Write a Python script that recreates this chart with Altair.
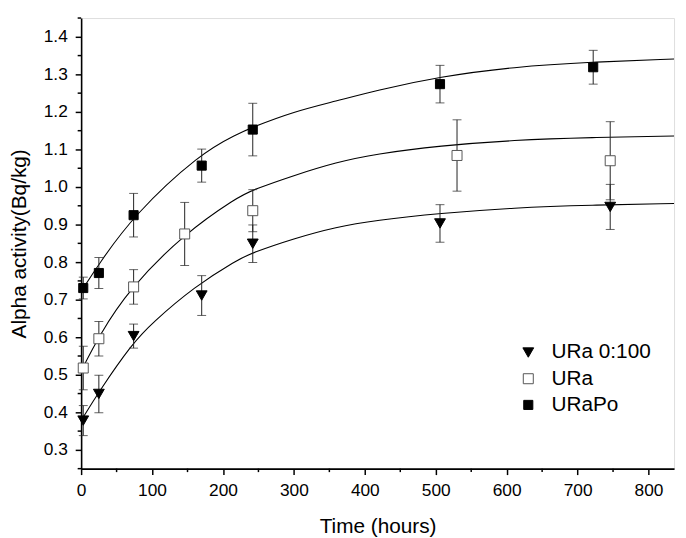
import altair as alt
import pandas as pd

series_names = ["URa 0:100", "URa", "URaPo"]

# measured points (hours, activity, +/- error)
tri_hours = [3, 25, 74, 170, 242, 506, 746]
tri_vals = [0.378, 0.449, 0.603, 0.711, 0.849, 0.903, 0.947]
tri_err = [0.04, 0.05, 0.032, 0.053, 0.05, 0.05, 0.06]

ura_hours = [3, 25, 74, 146, 242, 530, 746]
ura_vals = [0.518, 0.596, 0.734, 0.875, 0.937, 1.084, 1.07]
ura_err = [0.058, 0.046, 0.046, 0.084, 0.056, 0.095, 0.104]

urapo_hours = [3, 25, 74, 170, 242, 506, 722]
urapo_vals = [0.731, 0.771, 0.925, 1.057, 1.153, 1.274, 1.319]
urapo_err = [0.029, 0.041, 0.058, 0.044, 0.07, 0.05, 0.045]

# fitted curves
tri_fit_hours = [0, 25, 72, 100, 160, 220, 240, 300, 360, 415, 506, 610, 720, 836]
tri_fit_vals = [0.378, 0.455, 0.583, 0.638, 0.735, 0.806, 0.824, 0.863, 0.894, 0.911, 0.930, 0.945, 0.952, 0.956]

ura_fit_hours = [0, 25, 67, 146, 220, 240, 300, 360, 415, 506, 610, 720, 836]
ura_fit_vals = [0.51, 0.603, 0.727, 0.877, 0.972, 0.991, 1.031, 1.066, 1.088, 1.110, 1.125, 1.132, 1.136]

urapo_fit_hours = [0, 25, 74, 168, 220, 240, 300, 360, 415, 506, 610, 720, 836]
urapo_fit_vals = [0.722, 0.795, 0.925, 1.090, 1.141, 1.158, 1.201, 1.229, 1.257, 1.294, 1.320, 1.333, 1.341]

x_major = [0, 100, 200, 300, 400, 500, 600, 700, 800]
x_minor = [50, 150, 250, 350, 450, 550, 650, 750]
y_major = [0.3, 0.4, 0.5, 0.6, 0.7, 0.8, 0.9, 1.0, 1.1, 1.2, 1.3, 1.4]
y_minor = [0.25, 0.35, 0.45, 0.55, 0.65, 0.75, 0.85, 0.95, 1.05, 1.15, 1.25, 1.35, 1.45]

rows = []
for name, hs, vs, es in [(series_names[0], tri_hours, tri_vals, tri_err),
                         (series_names[1], ura_hours, ura_vals, ura_err),
                         (series_names[2], urapo_hours, urapo_vals, urapo_err)]:
    for h, v, e in zip(hs, vs, es):
        rows.append({"series": name, "hours": h, "value": v, "lo": v - e, "hi": v + e})
pts = pd.DataFrame(rows)

frows = []
for name, hs, vs in [(series_names[0], tri_fit_hours, tri_fit_vals),
                     (series_names[1], ura_fit_hours, ura_fit_vals),
                     (series_names[2], urapo_fit_hours, urapo_fit_vals)]:
    for h, v in zip(hs, vs):
        frows.append({"series": name, "hours": h, "value": v})
fits = pd.DataFrame(frows)

xminor_df = pd.DataFrame({"t": x_minor})
yminor_df = pd.DataFrame({"t": y_minor})

FONT = "Liberation Sans"
PLOT_H = 456

xscale = alt.Scale(domain=[0, 836], nice=False, zero=False)
yscale = alt.Scale(domain=[0.25, 1.45], nice=False, zero=False)

xaxis = alt.Axis(
    values=x_major,
    format="d",
    tickSize=6,
    title="Time (hours)",
    grid=False,
    domainColor="black", domainWidth=1.6,
    tickColor="black", tickWidth=1.5,
    labelFont=FONT, labelFontSize=17.5, labelColor="black", labelPadding=7,
    titleFont=FONT, titleFontSize=21, titleFontWeight="normal", titleColor="black",
    titlePadding=17, labelFlush=False, labelOverlap=False,
)
yaxis = alt.Axis(
    values=y_major,
    format=".1f",
    tickSize=6,
    title="Alpha activity(Bq/kg)",
    grid=False,
    domainColor="black", domainWidth=1.6,
    tickColor="black", tickWidth=1.5,
    labelFont=FONT, labelFontSize=17.5, labelColor="black", labelPadding=8,
    titleFont=FONT, titleFontSize=21, titleFontWeight="normal", titleColor="black",
    titlePadding=14, labelFlush=False, labelOverlap=False,
)

x = alt.X("hours:Q", scale=xscale, axis=xaxis)
y = alt.Y("value:Q", scale=yscale, axis=yaxis)

lines = alt.Chart(fits).mark_line(color="black", strokeWidth=1.1, interpolate="basis", clip=True).encode(
    x=x, y=y, detail="series:N"
)

bars = alt.Chart(pts).mark_rule(color="#222222", strokeWidth=1).encode(
    x=alt.X("hours:Q", scale=xscale), y=alt.Y("lo:Q", scale=yscale), y2="hi:Q"
)
caps_lo = alt.Chart(pts).mark_tick(orient="horizontal", size=9, thickness=1, color="#222222").encode(
    x=alt.X("hours:Q", scale=xscale), y=alt.Y("lo:Q", scale=yscale)
)
caps_hi = alt.Chart(pts).mark_tick(orient="horizontal", size=9, thickness=1, color="#222222").encode(
    x=alt.X("hours:Q", scale=xscale), y=alt.Y("hi:Q", scale=yscale)
)

# minor axis ticks
xminor = alt.Chart(xminor_df).mark_rule(color="black", strokeWidth=1.5).encode(
    x=alt.X("t:Q", scale=xscale), y=alt.value(PLOT_H), y2=alt.value(PLOT_H + 3.5)
)
yminor = alt.Chart(yminor_df).mark_rule(color="black", strokeWidth=1.5).encode(
    y=alt.Y("t:Q", scale=yscale), x=alt.value(-3.5), x2=alt.value(0)
)

legend = alt.Legend(
    title=None, orient="none", legendX=442, legendY=328, padding=0,
    labelFont=FONT, labelFontSize=21, labelColor="black", labelOffset=13,
    rowPadding=4.5, symbolStrokeWidth=1,
)

points = alt.Chart(pts).mark_point(opacity=1, strokeWidth=1).encode(
    x=alt.X("hours:Q", scale=xscale),
    y=alt.Y("value:Q", scale=yscale),
    shape=alt.Shape("series:N", scale=alt.Scale(domain=series_names, range=["triangle-down", "square", "square"]), legend=legend),
    fill=alt.Fill("series:N", scale=alt.Scale(domain=series_names, range=["black", "white", "black"]), legend=legend),
    stroke=alt.Stroke("series:N", scale=alt.Scale(domain=series_names, range=["black", "#555555", "black"]), legend=legend),
    size=alt.Size("series:N", scale=alt.Scale(domain=series_names, range=[120, 85, 95]), legend=legend),
)

chart = alt.layer(lines, bars, caps_lo, caps_hi, xminor, yminor, points).properties(
    width=600, height=PLOT_H,
    autosize=alt.AutoSizeParams(type="none"),
    padding={"left": 74, "top": 7, "right": 4, "bottom": 66},
).configure_view(stroke=None).configure(background="white")

chart.save("out.html", embed_options={"renderer": "svg", "actions": False})
